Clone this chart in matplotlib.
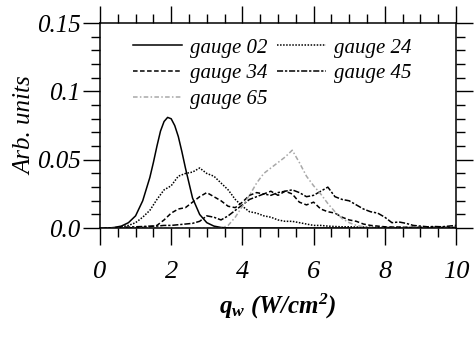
import numpy as np
import matplotlib
matplotlib.use("Agg")
import matplotlib.pyplot as plt
from matplotlib.ticker import MultipleLocator

plt.rcParams["font.family"] = ["Liberation Serif", "DejaVu Serif"]
plt.rcParams["font.style"] = "italic"
plt.rcParams["mathtext.fontset"] = "custom"
plt.rcParams["mathtext.rm"] = "Liberation Serif:italic"
plt.rcParams["mathtext.it"] = "Liberation Serif:italic"
plt.rcParams["mathtext.bf"] = "Liberation Serif:bold:italic"

# Heat-flux grid for the measured gauges (W/cm^2)
q_grid = np.round(np.arange(0.0, 10.01, 0.2), 1)

# gauge 02 sampled on its own, finer grid
q_02 = [0.0, 0.2, 0.4, 0.6, 0.8, 1.0, 1.2, 1.4, 1.5, 1.6, 1.7, 1.8, 1.9,
        2.0, 2.1, 2.2, 2.3, 2.4, 2.6, 2.8, 3.0, 3.2, 3.4, 3.6, 3.8, 4.0, 10.0]
gauge_02 = [0.0, 0.0, 0.0005, 0.0015, 0.004, 0.009, 0.020, 0.037, 0.048,
            0.060, 0.071, 0.078, 0.081, 0.080, 0.075, 0.067, 0.056, 0.044,
            0.022, 0.010, 0.004, 0.0015, 0.0005, 0.0002, 0.0, 0.0, 0.0]

gauge_24 = [0.0, 0.0, 0.0003, 0.001, 0.002, 0.004, 0.008, 0.013, 0.021, 0.028,
            0.031, 0.038, 0.040, 0.041, 0.044, 0.040, 0.038, 0.033, 0.028, 0.021,
            0.016, 0.012, 0.011, 0.009, 0.008, 0.006, 0.005, 0.005, 0.004, 0.003,
            0.002, 0.002, 0.0015, 0.0012, 0.001, 0.001, 0.0008, 0.0008, 0.0006, 0.0006,
            0.0005, 0.0005, 0.0005, 0.0005, 0.0005, 0.0005, 0.0005, 0.0005, 0.0005, 0.0005,
            0.0005]

gauge_34 = [0.0, 0.0, 0.0, 0.0, 0.0002, 0.0003, 0.0005, 0.001, 0.002, 0.006,
            0.011, 0.014, 0.015, 0.019, 0.023, 0.026, 0.023, 0.020, 0.016, 0.015,
            0.019, 0.024, 0.026, 0.025, 0.027, 0.024, 0.027, 0.025, 0.019, 0.017,
            0.019, 0.014, 0.012, 0.011, 0.008, 0.006, 0.005, 0.003, 0.002, 0.0015,
            0.001, 0.0008, 0.0008, 0.0006, 0.0006, 0.0005, 0.0005, 0.0005, 0.0005, 0.0005,
            0.0005]

gauge_45 = [0.0, 0.0, 0.0002, 0.0005, 0.0008, 0.001, 0.0012, 0.0015, 0.0015, 0.002,
            0.002, 0.0025, 0.003, 0.0035, 0.005, 0.009, 0.008, 0.006, 0.009, 0.013,
            0.017, 0.021, 0.023, 0.025, 0.024, 0.026, 0.027, 0.028, 0.026, 0.023,
            0.024, 0.027, 0.030, 0.023, 0.021, 0.020, 0.017, 0.014, 0.012, 0.011,
            0.008, 0.004, 0.0045, 0.0035, 0.002, 0.0015, 0.001, 0.0012, 0.001, 0.0015,
            0.002]

gauge_65 = [0.0, 0.0, 0.0, 0.0, 0.0, 0.0, 0.0, 0.0, 0.0, 0.0,
            0.0, 0.0, 0.0, 0.0, 0.0, 0.0, 0.0, 0.0, 0.002, 0.008,
            0.016, 0.024, 0.033, 0.040, 0.044, 0.048, 0.052, 0.057, 0.048, 0.038,
            0.031, 0.025, 0.018, 0.012, 0.007, 0.004, 0.002, 0.001, 0.0, 0.0,
            0.0, 0.0, 0.0, 0.0, 0.0, 0.0, 0.0, 0.0, 0.0, 0.0,
            0.0]

fig = plt.figure(figsize=(4.77, 3.39), dpi=100)
ax = fig.add_axes([0.2096, 0.327, 0.7464, 0.605])

lw = 1.1
h02, = ax.plot(q_02, gauge_02, color="black", lw=lw, ls="-", label="gauge 02")
h24, = ax.plot(q_grid, gauge_24, color="black", lw=lw, ls=(0, (1, 1)), label="gauge 24")
h34, = ax.plot(q_grid, gauge_34, color="black", lw=lw, ls=(0, (3, 1.6)), label="gauge 34")
h45, = ax.plot(q_grid, gauge_45, color="black", lw=lw, ls=(0, (4, 1.2, 1.5, 1.2)), label="gauge 45")
h65, = ax.plot(q_grid, gauge_65, color="#a8a8a8", lw=lw, ls=(0, (3, 1.5, 1, 1.5)), label="gauge 65")

ax.set_xlim(0, 10)
ax.set_ylim(0, 0.15)
ax.xaxis.set_minor_locator(MultipleLocator(0.5))
ax.yaxis.set_minor_locator(MultipleLocator(0.01))
ax.set_yticks([0.0, 0.05, 0.1, 0.15])
ax.set_yticklabels(["0.0", "0.05", "0.1", "0.15"])
ax.set_xticks([0, 2, 4, 6, 8, 10])
ax.set_xticklabels(["0", "2", "4", "6", "8", "10"])

ax.tick_params(which="both", direction="out", top=True, right=True,
               width=1.0, labelsize=18)
ax.tick_params(which="major", length=12)
ax.tick_params(which="minor", length=6.5)
ax.tick_params(axis="x", which="major", pad=12, labelsize=19)
ax.tick_params(axis="y", which="major", pad=2)
for s in ax.spines.values():
    s.set_linewidth(1.1)

ax.set_ylabel("Arb. units", fontsize=18, labelpad=0)
ax.set_xlabel(r"$\mathbf{q_w\ (W/cm^2)}$", fontsize=18, labelpad=6)

# Row-wise legend: two entries per row
handles = [h02, h34, h65, h24, h45]
fig.legend(handles, [h.get_label() for h in handles],
           loc="upper left", bbox_to_anchor=(133 / 477, 1 - 38 / 339),
           bbox_transform=fig.transFigure, ncol=2, frameon=False,
           fontsize=15, handlelength=2.35, handletextpad=0.4,
           columnspacing=0.45, labelspacing=0.3, borderpad=0,
           borderaxespad=0)

fig.savefig("out.png", dpi=100)
